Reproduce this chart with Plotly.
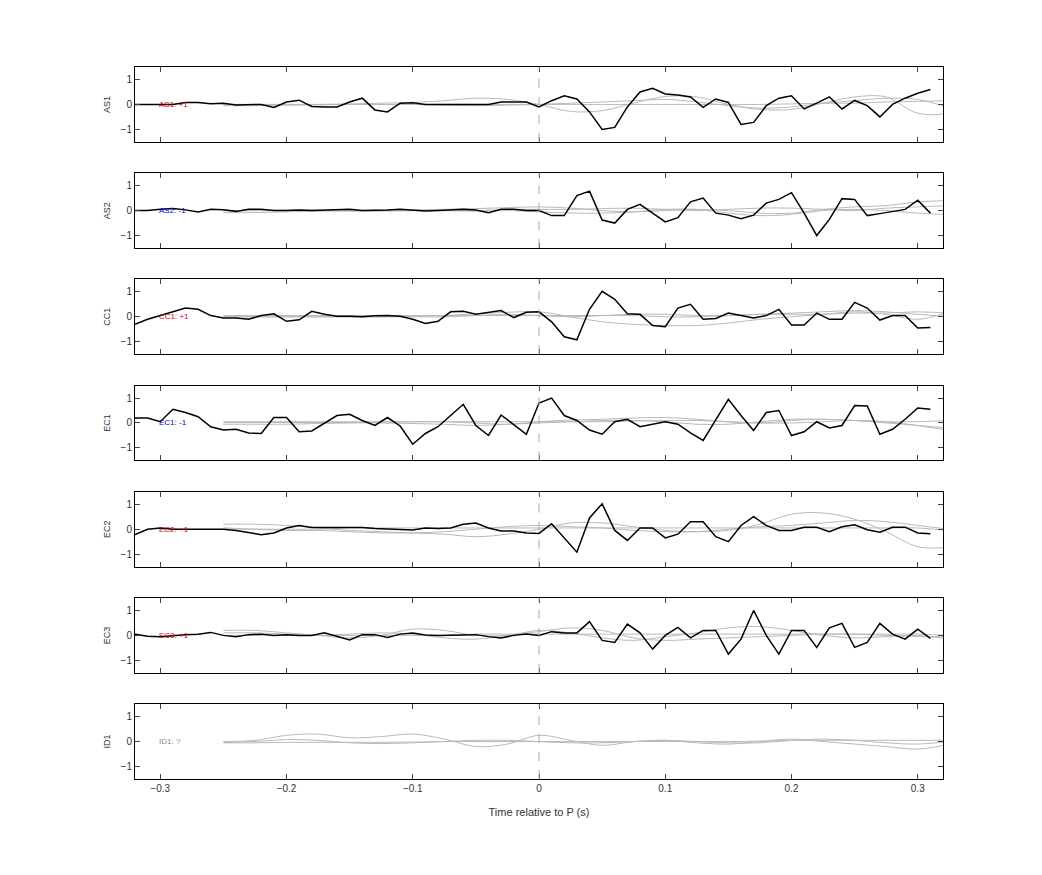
import numpy as np
import plotly.graph_objs as go
from plotly.subplots import make_subplots

# stations and their polarity labels
stations = ['AS1', 'AS2', 'CC1', 'EC1', 'EC2', 'EC3', 'ID1']
labels = ['AS1: +1', 'AS2: -1', 'CC1: +1', 'EC1: -1', 'EC2: +1', 'EC3: +1', 'ID1: ?']
label_colors = ['#d40000', '#0000cc', '#d40000', '#0000cc', '#d40000', '#d40000', '#888888']

# observed traces, time step 0.01 s from -0.32 to 0.31
t_obs = np.round(np.arange(-0.32, 0.315, 0.01), 2)
obs = {
    'AS1': [0, 0, 0, 0, 0.08, 0.08, 0.03, 0.05, -0.02, 0, 0, -0.12, 0.1, 0.17, -0.08, -0.1,
            -0.1, 0.1, 0.25, -0.22, -0.3, 0.05, 0.07, 0, 0, 0, 0.02, 0.02, 0, 0.1, 0.1, 0.1, -0.1,
            0.15, 0.35, 0.22, -0.3, -1.0, -0.92, -0.1, 0.5, 0.65, 0.42, 0.38, 0.3, -0.12, 0.22,
            0.08, -0.8, -0.72, -0.05, 0.25, 0.35, -0.18, 0.05, 0.3, -0.18, 0.16, -0.05, -0.5, 0.0,
            0.25, 0.45, 0.6],
    'AS2': [0, 0, 0.05, 0.08, 0.03, -0.05, 0.05, 0.03, -0.03, 0.05, 0.05, 0.0, 0.0, 0.02, 0.0,
            0.02, 0.05, 0.05, 0.0, 0.0, 0.02, 0.05, 0.0, -0.02, 0.0, 0.02, 0.05, 0.02, -0.08,
            0.05, 0.05, 0.0, 0.0, -0.2, -0.2, 0.6, 0.78, -0.38, -0.5, 0.05, 0.25, -0.1, -0.45,
            -0.28, 0.35, 0.5, -0.1, -0.18, -0.32, -0.18, 0.3, 0.45, 0.72, -0.1, -1.0, -0.35, 0.48,
            0.45, -0.2, -0.12, -0.05, 0.05, 0.42, -0.1],
    'CC1': [-0.3, -0.1, 0.05, 0.2, 0.35, 0.3, 0.05, -0.05, -0.05, -0.1, 0.05, 0.12, -0.18,
            -0.12, 0.22, 0.1, 0.02, 0.02, 0.0, 0.04, 0.05, 0.02, -0.1, -0.27, -0.18, 0.2, 0.22,
            0.1, 0.17, 0.25, -0.03, 0.18, 0.2, -0.2, -0.8, -0.92, 0.3, 1.02, 0.7, 0.12,
            0.1, -0.35, -0.4, 0.35, 0.5, -0.1, -0.07, 0.15, 0.05, -0.05, 0.05, 0.3, -0.33,
            -0.33, 0.15, -0.1, -0.1, 0.58, 0.35, -0.13, 0.05, 0.05, -0.45, -0.43],
    'EC1': [0.2, 0.2, 0.05, 0.55, 0.42, 0.25, -0.15, -0.28, -0.25, -0.4, -0.42, 0.22, 0.22,
            -0.35, -0.32, 0.0, 0.3, 0.35, 0.1, -0.1, 0.22, -0.12, -0.85, -0.42, -0.15, 0.3,
            0.75, -0.1, -0.5, 0.32, -0.05, -0.45, 0.8, 1.0, 0.3, 0.1, -0.28, -0.45, 0.05, 0.15,
            -0.15, -0.05, 0.05, -0.05, -0.4, -0.7, 0.15, 0.95, 0.3, -0.3, 0.42, 0.5, -0.5, -0.35,
            0.05, -0.2, -0.1, 0.7, 0.68, -0.45, -0.25, 0.15, 0.6, 0.55],
    'EC2': [-0.22, 0.0, 0.05, 0.0, 0.0, 0.0, 0.0, 0.0, -0.05, -0.15, -0.22, -0.15, 0.05, 0.15,
            0.07, 0.07, 0.07, 0.05, 0.07, 0.03, 0.0, 0.0, -0.03, 0.05, 0.03, 0.05, 0.2, 0.25,
            0.05, -0.07, -0.07, -0.15, -0.17, 0.22, -0.35, -0.92, 0.45, 1.02, -0.05, -0.45, 0.05,
            0.05, -0.35, -0.2, 0.3, 0.3, -0.3, -0.5, 0.15, 0.5, 0.15, -0.05, -0.05, 0.08, 0.08,
            -0.1, 0.1, 0.18, -0.02, -0.12, 0.08, 0.08, -0.15, -0.18],
    'EC3': [0.05, -0.03, -0.05, 0.0, 0.03, 0.05, 0.12, 0.0, -0.05, 0.03, 0.05, 0.0, 0.03, 0.0,
            0.0, 0.1, -0.03, -0.18, 0.03, 0.03, -0.08, 0.05, 0.1, 0.02, 0.0, 0.0, 0.0, 0.03,
            -0.05, -0.1, 0.0, 0.05, 0.0, 0.15, 0.1, 0.1, 0.55, -0.2, -0.28, 0.45, 0.1, -0.55,
            0.0, 0.32, -0.1, 0.2, 0.2, -0.75, -0.15, 1.0, 0.0, -0.75, 0.2, 0.2, -0.48, 0.3, 0.48,
            -0.48, -0.28, 0.48, 0.05, -0.15, 0.25, -0.12],
    'ID1': None,
}

# synthetic traces, time step 0.025 s from -0.25 to 0.35
t_syn = np.round(np.arange(-0.25, 0.3501, 0.025), 3)
syn = {
    'AS1': [[0, 0, 0, 0, 0.02, 0.05, 0.08, 0.15, 0.25, 0.2, 0.0, -0.28, -0.25, 0.05, 0.32,
             0.3, 0.0, -0.2, -0.2, 0.05, 0.3, 0.3, -0.35, -0.3, 0.7],
            [-0.05, -0.05, -0.03, -0.02, 0, 0, 0, -0.03, -0.05, -0.03, 0, 0.05, 0.1, 0.15, 0.2,
             0.1, -0.05, -0.15, -0.1, 0.05, 0.15, 0.25, 0.2, -0.1, -0.2],
            [0, 0, 0, 0, 0, 0, 0, 0, 0, 0, 0, 0, 0, 0, 0, 0, 0, 0, 0.02, 0.05, 0.05, 0.1, 0.12,
             0.15, 0.15]],
    'AS2': [[-0.08, -0.08, -0.05, -0.02, 0, 0.02, 0.03, 0.05, 0.08, 0.12, 0.15, 0.1, 0.0, -0.05,
             0, 0.05, 0.0, -0.1, -0.1, 0.05, 0.15, 0.2, 0.35, 0.4, 0.4],
            [0, 0, 0, 0, -0.02, -0.02, 0, 0, -0.02, 0, -0.05, -0.1, -0.1, -0.05, 0.05, 0.05,
             -0.1, -0.2, -0.15, 0, 0.05, 0.0, -0.1, -0.15, -0.1],
            [0, 0, 0.02, 0.02, 0, 0, 0, 0, 0, 0.05, 0.05, 0.05, 0.08, 0.1, 0.05, 0.0, 0.05, 0.1,
             0.1, 0.05, 0.0, 0.1, 0.15, 0.2, 0.2]],
    'CC1': [[0, 0, 0, 0, 0, 0, 0.02, 0.05, 0.12, 0.18, 0.2, 0.0, -0.2, -0.3, -0.35, -0.35,
             -0.25, -0.1, 0.0, 0.1, 0.2, 0.1, -0.1, 0.2, 0.6],
            [0, 0, 0, 0, 0, 0, 0, 0, 0.05, 0.1, 0.05, 0.0, 0.05, 0.1, 0.1, 0.05, 0.05, 0.1,
             0.15, 0.2, 0.25, 0.2, 0.1, 0.0, -0.1],
            [0.05, 0.05, 0.05, 0.05, 0.05, 0.05, 0.05, 0.05, 0.05, 0.05, 0.05, 0.05, 0.05, 0.05,
             0.0, 0.0, 0.05, 0.1, 0.1, 0.1, 0.15, 0.15, 0.2, 0.15, 0.1]],
    'EC1': [[-0.05, -0.05, -0.05, -0.02, 0, 0.02, 0.05, 0.05, 0.0, -0.05, 0.05, 0.12, 0.15,
             0.2, 0.22, 0.15, 0.05, 0.0, 0.1, 0.15, 0.1, 0.0, -0.1, -0.3, -0.4],
            [0.02, 0.02, 0.02, 0.02, 0.02, 0.0, -0.02, -0.05, -0.1, -0.05, 0.0, 0.05, 0.1,
             0.1, 0.05, -0.05, -0.05, 0.05, 0.15, 0.15, 0.1, 0.05, 0.05, 0.1, 0.1],
            [0.05, 0.05, 0.05, 0.05, 0.05, 0.05, 0.05, 0.05, 0.05, 0.05, 0.05, 0.05, 0.05, 0.08,
             0.1, 0.1, 0.05, 0.0, 0.0, 0.05, 0.1, 0.05, -0.1, -0.2, -0.25]],
    'EC2': [[0.2, 0.2, 0.15, 0.05, -0.05, -0.1, -0.15, -0.2, -0.3, -0.2, 0.0, 0.25, 0.25, 0.1,
             -0.05, -0.1, -0.05, 0.2, 0.6, 0.65, 0.4, -0.1, -0.7, -0.7, -0.3],
            [0.05, 0.0, -0.05, -0.05, -0.1, -0.15, -0.15, -0.1, 0.0, 0.1, 0.15, 0.1, 0.05,
             -0.05, -0.1, -0.1, 0.0, 0.1, 0.15, 0.25, 0.35, 0.3, 0.15, 0.0, -0.1],
            [0.0, 0.0, 0.0, 0.0, 0.05, 0.05, 0.05, 0.05, 0.05, 0.05, 0.05, 0.05, 0.05, 0.05,
             0.05, 0.05, 0.05, 0.05, 0.05, 0.05, 0.05, 0.05, 0.05, -0.05, -0.1]],
    'EC3': [[0.2, 0.2, 0.1, 0.0, -0.1, 0.0, 0.25, 0.2, 0.0, 0.0, 0.2, 0.1, -0.1, -0.2, -0.05,
             0.1, 0.3, 0.35, 0.2, 0.0, -0.1, -0.05, 0.0, -0.15, -0.25],
            [0.1, 0.1, 0.05, 0.0, 0.05, 0.1, 0.05, -0.1, -0.15, 0.0, 0.15, 0.3, 0.2, -0.1, -0.2,
             -0.15, -0.1, -0.05, 0.0, 0.05, 0.05, 0.0, -0.05, -0.05, -0.05],
            [0.0, 0.0, 0.0, 0.0, 0.0, 0.0, 0.0, 0.0, 0.05, 0.05, 0.05, 0.05, 0.05, 0.05, 0.05,
             0.05, 0.05, 0.05, 0.05, 0.05, 0.05, 0.05, 0.05, 0.0, 0.0]],
    'ID1': [[0.0, 0.05, 0.25, 0.3, 0.15, 0.2, 0.3, 0.1, -0.2, -0.1, 0.25, 0.05, -0.15, 0.0,
             0.05, -0.05, -0.1, 0.0, 0.1, 0.0, -0.1, -0.2, -0.3, -0.1, 0.3],
            [-0.03, 0.0, 0.08, 0.05, -0.05, -0.08, -0.05, 0.0, 0.05, 0.05, 0.0, -0.05, -0.05,
             0.0, 0.05, 0.0, -0.05, -0.05, 0.05, 0.1, 0.05, -0.05, -0.1, 0.0, 0.1],
            [-0.05, -0.05, -0.03, -0.03, -0.03, -0.03, -0.02, 0.0, 0.0, 0.0, 0.0, 0.0, 0.0,
             0.0, 0.0, 0.0, 0.0, 0.02, 0.05, 0.05, 0.05, 0.05, 0.05, 0.05, 0.05]],
}

nrow = len(stations)
fig = make_subplots(rows=nrow, cols=1, shared_xaxes=True, vertical_spacing=0.044)

for i, st in enumerate(stations):
    r = i + 1
    for g in syn[st]:
        fig.add_trace(go.Scatter(x=t_syn, y=g, mode='lines', line_shape='spline',
                                 line=dict(color='rgb(185,185,185)', width=1),
                                 showlegend=False, hoverinfo='skip'), row=r, col=1)
    if obs[st] is not None:
        fig.add_trace(go.Scatter(x=t_obs, y=obs[st], mode='lines',
                                 line=dict(color='black', width=1.5),
                                 showlegend=False), row=r, col=1)
    # dashed line at P arrival
    fig.add_vline(x=0, line=dict(color='rgb(215,150,150)', width=1, dash='dash'), row=r, col=1)
    fig.add_annotation(x=-0.3, y=0, text=labels[i], showarrow=False, xanchor='left', xshift=-3,
                       font=dict(size=8, color=label_colors[i]), row=r, col=1)
    fig.update_yaxes(range=[-1.5, 1.5], tickvals=[-1, 0, 1], ticks='inside', ticklen=5,
                     mirror='ticks', showline=True, linecolor='black', linewidth=1,
                     showgrid=False, zeroline=False,
                     title=dict(text=st, font=dict(size=9), standoff=8),
                     row=r, col=1)
    fig.update_xaxes(range=[-0.32, 0.32], tickvals=[-0.3, -0.2, -0.1, 0, 0.1, 0.2, 0.3],
                     ticks='inside', ticklen=5, mirror='ticks', showline=True, linecolor='black',
                     linewidth=1, showgrid=False, zeroline=False, row=r, col=1)

fig.update_xaxes(title=dict(text='Time relative to P (s)', font=dict(size=11)), row=nrow, col=1)

fig.update_layout(
    width=1042, height=875,
    margin=dict(l=127, r=107, t=59, b=104),
    plot_bgcolor='white', paper_bgcolor='white',
    font=dict(family='Liberation Sans, Arial, sans-serif', size=10, color='#333'),
)

fig.write_html('out.html')
